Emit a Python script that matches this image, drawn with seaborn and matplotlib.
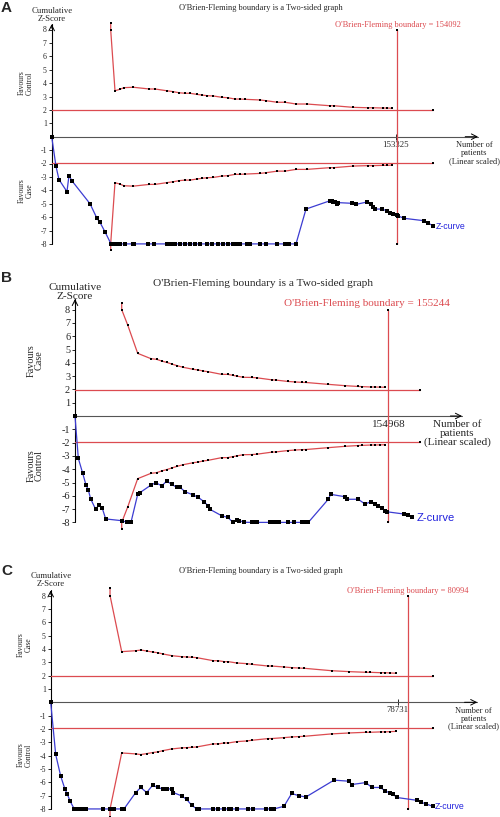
import matplotlib
matplotlib.use("Agg")
import matplotlib.pyplot as plt
import seaborn as sns

# ---------------- Panel A ----------------
a_z_n = [0, 1900, 3250, 6800, 7700, 9050, 17070, 20190, 21530, 23760, 26430,
         28210, 29240, 30440, 32670, 36100, 36810, 43050, 45730, 51260, 52280,
         53170, 54950, 57180, 59410, 61640, 63870, 66100, 69080, 71580, 74250,
         76480, 78710, 80940, 82450, 83930, 86910, 88380, 92840, 95380, 100550,
         103980, 105010, 105760, 108880, 113340, 124040, 124800, 125510, 126270,
         127290, 127740, 133710, 135630, 140660, 142180, 143340, 144090, 147080,
         149310, 150780, 152250, 153770, 154480, 157020, 165930, 167850, 169810]
a_z = [0, -2.2, -3.2, -4.1, -2.9, -3.3, -5.0, -6.1, -6.4, -7.1, -8.0,
       -8, -8, -8, -8, -8, -8, -8, -8, -8, -8,
       -8, -8, -8, -8, -8, -8, -8, -8, -8, -8,
       -8, -8, -8, -8, -8, -8, -8, -8, -8, -8,
       -8, -8, -8, -8, -5.4, -4.78, -4.80, -4.85, -4.87,
       -5.02, -4.92, -4.97, -5.05, -4.87, -5.05, -5.27, -5.4, -5.4,
       -5.52, -5.67, -5.77, -5.84, -5.92, -6.09, -6.27, -6.46, -6.63]
a_b_n = [26300, 26300, 28210, 30440, 32220, 36370, 43500, 46040, 51260, 54200,
         56740, 59410, 61640, 64630, 66860, 69350, 72030, 75770, 78440, 81700,
         83930, 86150, 92840, 95380, 100550, 103980, 108880, 113650, 124040,
         125820, 134420, 141110, 143340, 147530, 149580, 151810]
a_b = [8.46, 7.96, 3.43, 3.54, 3.66, 3.69, 3.56, 3.56, 3.43, 3.36,
       3.28, 3.24, 3.24, 3.16, 3.11, 3.06, 3.04, 2.94, 2.91, 2.81,
       2.81, 2.79, 2.74, 2.69, 2.57, 2.57, 2.44, 2.44, 2.31,
       2.31, 2.19, 2.16, 2.16, 2.14, 2.14, 2.12]
a_ris = 154092
a_tick = 153325

# ---------------- Panel B ----------------
b_z_n = [0, 1640, 3820, 5450, 6590, 7780, 10260, 11750, 13530, 15210, 23140,
         25920, 27750, 31070, 32210, 37670, 40140, 42970, 45450, 47920, 50400,
         52040, 54520, 58630, 61110, 63930, 66060, 66910, 72700, 75680, 78160,
         80140, 81280, 83900, 87570, 89210, 90050, 96640, 97980, 99120, 101250,
         105410, 108690, 112350, 113990, 115630, 125530, 126720, 133810, 134950,
         140400, 143720, 146700, 148680, 150320, 152000, 153640, 154480, 163050,
         165190, 166870]
b_z = [0, -3.18, -4.31, -5.19, -5.56, -6.24, -7.02, -6.69, -6.94, -7.74, -7.87,
       -7.99, -7.99, -5.89, -5.76, -5.19, -5.01, -5.26, -4.89, -5.14, -5.36,
       -5.36, -5.69, -5.94, -6.12, -6.44, -6.77, -7.02, -7.5, -7.62, -7.97,
       -7.84, -7.87, -7.99, -8, -8, -8, -8, -8, -8, -8,
       -8, -8, -8, -8, -8, -6.26, -5.89, -6.07, -6.26,
       -6.26, -6.62, -6.44, -6.64, -6.77, -6.89, -7.17, -7.2, -7.37,
       -7.45, -7.57]
b_b_n = [23140, 23140, 26120, 31070, 37670, 40490, 42970, 45450, 47920, 50700,
         53670, 58630, 61110, 63580, 66060, 72700, 75680, 78160, 80140, 83410,
         87570, 90200, 97480, 99620, 105410, 109030, 112350, 114480, 125530,
         133810, 140400, 142240, 146700, 148680, 151160, 153640]
b_b = [8.5, 8.0, 6.84, 4.71, 4.31, 4.26, 4.13, 4.03, 3.91, 3.78,
       3.66, 3.51, 3.46, 3.38, 3.33, 3.13, 3.13, 3.06, 3.0, 2.91,
       2.9, 2.87, 2.72, 2.7, 2.6, 2.56, 2.53, 2.52, 2.38,
       2.28, 2.22, 2.21, 2.18, 2.18, 2.17, 2.16]
b_ris = 155244
b_tick = 154968

# ---------------- Panel C ----------------
c_z_n = [0, 1130, 2270, 3240, 3770, 4380, 5290, 6260, 7030, 8010, 11800,
         13460, 14360, 16110, 16630, 19290, 20420, 21780, 23140, 24280, 25550,
         26320, 27450, 27820, 29720, 30860, 31990, 33130, 33720, 36890, 38030,
         39390, 40520, 40840, 42340, 44840, 45970, 48850, 49920, 50670, 52940,
         54680, 56410, 57930, 64280, 67680, 68300, 71540, 72830, 74880, 75850,
         76990, 77740, 78510, 83050, 83950, 85160, 86680]
c_z = [0, -3.91, -5.54, -6.52, -6.89, -7.4, -7.97, -8, -8, -8, -8,
       -8, -8, -8, -8, -6.77, -6.39, -6.77, -6.22, -6.39, -6.52,
       -6.47, -6.52, -6.77, -7.02, -7.29, -7.72, -8, -8, -8, -8,
       -8, -8, -8, -8, -8, -8, -8, -8, -8, -7.8,
       -6.84, -7.02, -7.1, -5.84, -5.92, -6.17, -6.02, -6.39, -6.39, -6.65,
       -6.8, -6.9, -7.14, -7.35, -7.5, -7.62, -7.8]
c_b_n = [13460, 13460, 16110, 19290, 20420, 21780, 23140, 24280, 25550, 27450,
         29720, 30860, 31990, 33130, 36890, 38030, 39390, 40300, 42200, 44470,
         45610, 49370, 50140, 52940, 54680, 56410, 57540, 63760, 67750, 71540,
         72450, 74940, 75850, 76990, 78350]
c_b = [8.57, 8.01, 3.8, 3.87, 3.92, 3.85, 3.77, 3.72, 3.62, 3.5,
       3.42, 3.4, 3.38, 3.35, 3.12, 3.12, 3.05, 3.05, 2.95, 2.9,
       2.85, 2.72, 2.72, 2.65, 2.6, 2.57, 2.55, 2.37, 2.3, 2.25,
       2.25, 2.22, 2.22, 2.2, 2.18]
c_ris = 80994
c_tick = 78731

title = "O'Brien-Fleming boundary is a Two-sided graph"
W, H = 500, 817
RED = '#dc4b50'
BLUE = '#3c3cd2'

sns.set_style("white")
plt.rcParams['font.family'] = ['Liberation Serif', 'DejaVu Serif']
plt.rcParams['axes.unicode_minus'] = False

fig = plt.figure(figsize=(W / 100, H / 100), dpi=100)


def px_axes(left, right, zero_y, unit):
    # axes box from pixel measurements, ylim -8.6..8.6
    top = zero_y - 8.6 * unit
    bottom = zero_y + 8.6 * unit
    return fig.add_axes([left / W, 1 - bottom / H, (right - left) / W, (bottom - top) / H])


def draw_panel(ax, z_n, z, b_n, b, ris, tick, xmax, hend, fav, fs, tfs, ms, zms, ytop, pos):
    ax.set_xlim(0, xmax)
    ax.set_ylim(-8.6, 8.6)
    for s in ax.spines.values():
        s.set_visible(False)
    ax.spines['bottom'].set_position(('data', 0))

    # axes with arrows
    ax.plot([0, xmax], [0, 0], color='#555555', lw=0.8, clip_on=False)
    ax.annotate('', xy=(xmax, 0), xytext=(xmax * 0.97, 0), annotation_clip=False,
                arrowprops=dict(arrowstyle='->', color='black', lw=0.7, shrinkA=0, shrinkB=0))
    ax.plot([0, 0], [-8, ytop], color='black', lw=0.8, clip_on=False)
    ax.annotate('', xy=(0, ytop), xytext=(0, ytop - 0.3), annotation_clip=False,
                arrowprops=dict(arrowstyle='->', color='black', lw=0.7, shrinkA=0, shrinkB=0))

    mk = dict(marker='s', markersize=ms, markerfacecolor='black',
              markeredgecolor='black', markeredgewidth=0)

    # conventional +-1.96 lines
    for yv in (1.96, -1.96):
        ax.plot([0, hend], [yv, yv], color=RED, lw=0.9, clip_on=False)
        ax.plot([hend], [yv], ls='none', clip_on=False, **mk)

    # monitoring boundaries
    sns.lineplot(x=b_n, y=b, sort=False, estimator=None, color=RED, lw=0.9, ax=ax, **mk)
    sns.lineplot(x=b_n, y=[-v for v in b], sort=False, estimator=None, color=RED, lw=0.9,
                 ax=ax, **mk)
    # required information size
    sns.lineplot(x=[ris, ris], y=[8, -8], sort=False, estimator=None, color=RED, lw=0.9,
                 ax=ax, **mk)
    # z-curve
    zmk = dict(mk, markersize=zms)
    sns.lineplot(x=z_n, y=z, sort=False, estimator=None, color=BLUE, lw=0.9, ax=ax, **zmk)
    for ln in ax.lines:
        ln.set_clip_on(False)

    ax.set_xlabel('')
    ax.set_ylabel('')
    yt = [-8, -7, -6, -5, -4, -3, -2, -1, 1, 2, 3, 4, 5, 6, 7, 8]
    ax.set_yticks(yt)
    ax.set_yticklabels([str(v) for v in yt])
    ax.tick_params(axis='y', left=True, length=2.5, width=0.7, pad=1, labelsize=fs - 0.7)
    ax.set_xticks([tick])
    ax.set_xticklabels([str(tick)])
    ax.tick_params(axis='x', bottom=True, direction='inout', length=4, width=0.7,
                   pad=1, labelsize=fs)

    ax.text(0, pos['cum'], 'Cumulative\nZ-Score', ha='center', va='center',
            fontsize=fs, linespacing=0.95)
    ax.text(pos['fav_x'], pos['fav_top'], 'Favours\n' + fav[0], rotation=90,
            ha='center', va='center', fontsize=fs - 0.8, linespacing=0.95)
    ax.text(pos['fav_x'], pos['fav_bot'], 'Favours\n' + fav[1], rotation=90,
            ha='center', va='center', fontsize=fs - 0.8, linespacing=0.95)
    ax.text(pos['ris_x'], pos['ris_y'], "O'Brien-Fleming boundary = %d" % ris,
            color=RED, ha='center', va='center', fontsize=tfs)
    ax.text(pos['num_x'], pos['num_y'], 'Number of\npatients\n(Linear scaled)',
            ha='center', va='top', fontsize=pos['num_fs'], linespacing=0.95)
    ax.text(pos['zc_x'], pos['zc_y'], 'Z-curve', color='#2222dd', ha='left', va='center',
            fontsize=fs, family='Liberation Sans')


# Panel A
axA = px_axes(51.7, 478, 136.7, 13.4)
draw_panel(axA, a_z_n, a_z, a_b_n, a_b, a_ris, a_tick, 190000, 170000,
           ('Control', 'Case'), 6.3, 6.0, 2.0, 2.6, 8.4,
           dict(cum=9.1, fav_x=-11450, fav_top=4.0, fav_bot=-4.0, ris_x=a_ris, ris_y=8.3,
                num_x=188400, num_y=-0.35, num_fs=6.0, zc_x=171300, zc_y=-6.72))

# Panel B
axB = px_axes(75, 462, 416, 13.3)
draw_panel(axB, b_z_n, b_z, b_b_n, b_b, b_ris, b_tick, 191800, 171000,
           ('Case', 'Control'), 8.1, 8.0, 1.8, 3.0, 8.8,
           dict(cum=9.3, fav_x=-19800, fav_top=4.2, fav_bot=-3.7, ris_x=144720, ris_y=8.45,
                num_x=189300, num_y=-0.3, num_fs=8.0, zc_x=169340, zc_y=-7.7))

# Panel C
axC = px_axes(50.7, 477.3, 702.3, 13.33)
draw_panel(axC, c_z_n, c_z, c_b_n, c_b, c_ris, c_tick, 96800, 86800,
           ('Case', 'Control'), 6.3, 6.0, 2.0, 2.6, 8.4,
           dict(cum=9.15, fav_x=-5900, fav_top=4.3, fav_bot=-3.95, ris_x=81070, ris_y=8.35,
                num_x=96000, num_y=-0.35, num_fs=6.0, zc_x=87200, zc_y=-7.83))

# titles and panel letters
fig.text(261 / W, 1 - 8 / H, title, ha='center', va='center', fontsize=6)
fig.text(263 / W, 1 - 283 / H, title, ha='center', va='center', fontsize=8.2)
fig.text(261 / W, 1 - 571 / H, title, ha='center', va='center', fontsize=6)
for letter, ytop in (('A', 1), ('B', 271), ('C', 564)):
    fig.text(1 / W, 1 - ytop / H, letter, ha='left', va='top', fontsize=11,
             fontweight='bold', family='Liberation Sans')

fig.savefig('out.png', dpi=100)
